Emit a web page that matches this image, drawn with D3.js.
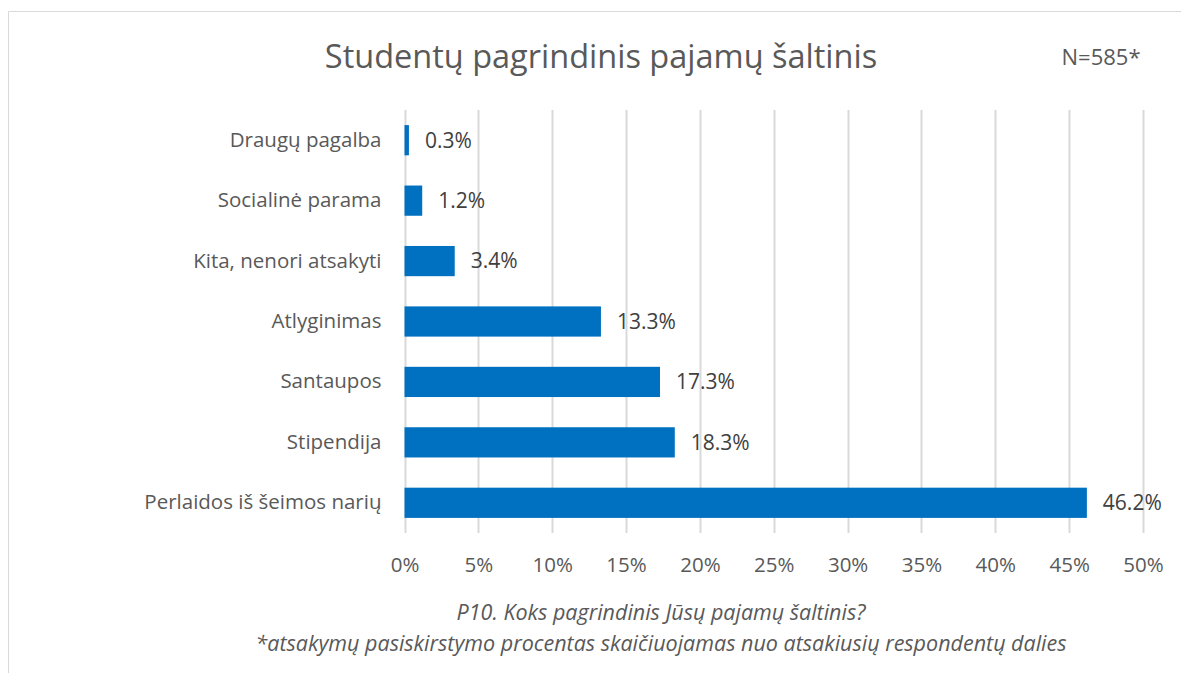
<!DOCTYPE html>
<html>
<head>
<meta charset="utf-8">
<script src="https://cdn.jsdelivr.net/npm/d3@7"></script>
<style>
  body { margin: 0; background: #fff; }
  svg { display: block; font-family: "Open Sans", sans-serif; }
</style>
</head>
<body>
<svg id="chart" width="1181" height="673"></svg>
<script>
// categories top to bottom
const categories = ['Draugų pagalba', 'Socialinė parama', 'Kita, nenori atsakyti', 'Atlyginimas', 'Santaupos', 'Stipendija', 'Perlaidos iš šeimos narių'];
const values = [0.3, 1.2, 3.4, 13.3, 17.3, 18.3, 46.2];
const tickValues = [0, 5, 10, 15, 20, 25, 30, 35, 40, 45, 50];

const titleText = 'Studentų pagrindinis pajamų šaltinis';
const nText = 'N=585*';
const captionLines = ['P10. Koks pagrindinis Jūsų pajamų šaltinis?', '*atsakymų pasiskirstymo procentas skaičiuojamas nuo atsakiusių respondentų dalies'];

const fontFamily = '"Open Sans", sans-serif';

const svg = d3.select('#chart');

// chart area border (cut off at right and bottom)
svg.append('path')
  .attr('d', 'M8.5,700 V11.5 H1200')
  .attr('fill', 'none')
  .attr('stroke', '#d9d9d9')
  .attr('stroke-width', 1);

const plot = { left: 404.5, right: 1143, top: 110, bottom: 533 };

const x = d3.scaleLinear().domain([0, 50]).range([plot.left, plot.right]);
const y = d3.scaleBand().domain(categories).range([plot.top, plot.bottom]).paddingInner(0.5).paddingOuter(0.25);

// gridlines
svg.append('g')
  .selectAll('line')
  .data(tickValues)
  .enter()
  .append('line')
  .attr('x1', d => Math.round(x(d)) + 0.5)
  .attr('x2', d => Math.round(x(d)) + 0.5)
  .attr('y1', plot.top)
  .attr('y2', plot.bottom)
  .attr('stroke', '#d9d9d9')
  .attr('stroke-width', 2);

// x axis labels
const xAxis = d3.axisBottom(x).tickValues(tickValues).tickSize(0).tickPadding(0).tickFormat(d => d + '%');
const xg = svg.append('g').attr('transform', `translate(0,${plot.bottom})`).call(xAxis);
xg.select('.domain').remove();
xg.selectAll('text')
  .attr('dy', null)
  .attr('y', 39)
  .style('font-size', '20.5px')
  .style('font-family', fontFamily)
  .style('fill', '#595959');

// category labels
const yAxis = d3.axisLeft(y).tickSize(0).tickPadding(23);
const yg = svg.append('g').attr('transform', `translate(${plot.left},0)`).call(yAxis);
yg.select('.domain').remove();
yg.selectAll('text')
  .style('font-size', '20.5px')
  .style('font-family', fontFamily)
  .style('fill', '#595959');

// bars
svg.append('g')
  .selectAll('rect')
  .data(values)
  .enter()
  .append('rect')
  .attr('x', x(0))
  .attr('y', (d, i) => y(categories[i]))
  .attr('width', d => x(d) - x(0))
  .attr('height', y.bandwidth())
  .attr('fill', '#0070c0');

// value labels
svg.append('g')
  .selectAll('text')
  .data(values)
  .enter()
  .append('text')
  .attr('x', d => x(d) + 16)
  .attr('y', (d, i) => y(categories[i]) + y.bandwidth() / 2)
  .attr('dy', '0.35em')
  .text(d => d.toFixed(1) + '%')
  .style('font-size', '21px')
  .style('fill', '#404040');

// title
svg.append('text')
  .attr('x', 601)
  .attr('y', 68)
  .attr('text-anchor', 'middle')
  .text(titleText)
  .style('font-size', '32.5px')
  .style('fill', '#595959');

svg.append('text')
  .attr('x', 1101)
  .attr('y', 65)
  .attr('text-anchor', 'middle')
  .text(nText)
  .style('font-size', '22px')
  .style('fill', '#595959');

// caption
svg.append('g')
  .selectAll('text')
  .data(captionLines)
  .enter()
  .append('text')
  .attr('x', 661)
  .attr('y', (d, i) => 620 + i * 31)
  .attr('text-anchor', 'middle')
  .text(d => d)
  .style('font-size', '21.5px')
  .style('font-style', 'italic')
  .style('fill', '#595959');
</script>
</body>
</html>
